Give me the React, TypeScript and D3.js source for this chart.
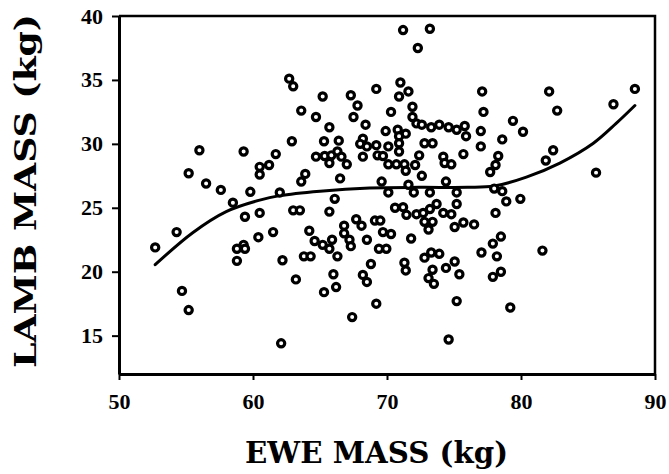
import { useEffect, useRef } from 'react';
import * as d3 from 'd3';

// Ewe mass vs lamb mass
const eweMass = [
  56.0, 59.3, 61.7, 55.2, 56.5, 57.6, 60.5, 61.2, 60.5, 59.8, 58.5, 52.7, 54.3, 59.4, 60.5, 60.4, 61.5, 58.8, 59.3, 59.4,
  58.8, 54.7, 55.2, 62.1, 62.2, 71.2, 73.2, 72.3, 62.7, 63.0, 65.2, 67.3, 67.8, 69.2, 71.0, 71.6, 70.9, 63.6, 64.7, 67.5,
  70.3, 71.9, 71.9, 65.7, 68.4, 69.9, 70.8, 71.4, 70.9, 72.2, 72.6, 73.3, 73.9, 74.6, 75.2, 75.8, 75.9, 62.9, 65.3, 66.4,
  68.2, 68.0, 68.5, 69.2, 70.1, 70.9, 70.9, 72.8, 73.4, 64.7, 65.35, 65.85, 65.7, 66.3, 66.6, 67.0, 68.2, 69.3, 69.7, 70.1,
  70.7, 71.3, 71.4, 72.1, 72.4, 72.6, 74.2, 74.3, 74.8, 75.7, 63.9, 63.6, 66.5, 69.6, 70.1, 71.6, 72.0, 73.2, 74.4, 75.2,
  62.0, 66.1, 65.7, 63.0, 63.5, 70.6, 71.2, 71.45, 72.2, 72.7, 73.2, 73.7, 74.2, 74.8, 75.2, 72.8, 73.4, 73.1, 75.05, 75.7,
  64.2, 64.6, 65.2, 65.7, 65.9, 66.8, 66.8, 67.2, 67.7, 68.1, 67.3, 68.5, 69.1, 69.5, 69.7, 70.3, 69.4, 69.95, 71.8, 63.8,
  64.3, 66.3, 63.2, 66.0, 66.2, 65.3, 68.2, 68.5, 68.8, 69.2, 67.4, 71.3, 71.4, 72.8, 73.3, 73.9, 73.4, 73.1, 73.5, 74.4,
  75.05, 75.4, 75.2, 74.6, 77.1, 82.1, 88.5, 77.2, 82.7, 86.9, 77.0, 79.4, 80.15, 78.6, 77.0, 78.3, 78.1, 77.7, 82.4, 81.85,
  85.6, 78.0, 78.6, 79.95, 78.9, 78.1, 76.5, 78.5, 77.9, 77.05, 78.2, 81.6, 78.5, 77.9, 79.2,
];
const lambMass = [
  29.5, 29.4, 29.2, 27.7, 26.9, 26.4, 28.2, 28.35, 27.6, 26.25, 25.4, 21.9, 23.1, 24.3, 24.6, 22.7, 23.1, 21.8, 22.1, 21.8,
  20.85, 18.5, 17.0, 14.4, 20.9, 38.9, 39.0, 37.5, 35.1, 34.5, 33.7, 33.8, 33.0, 34.3, 34.8, 34.1, 33.7, 32.6, 32.1, 32.1,
  32.5, 32.9, 32.1, 31.3, 31.5, 31.0, 31.1, 30.8, 30.6, 31.6, 31.5, 31.3, 31.5, 31.3, 31.1, 31.4, 30.6, 30.2, 30.2, 30.25,
  30.4, 30.0, 29.8, 29.9, 29.8, 30.05, 29.4, 30.05, 30.05, 29.0, 29.05, 29.1, 28.5, 29.4, 29.0, 28.4, 29.0, 29.1, 29.05, 28.4,
  28.4, 28.4, 27.9, 28.35, 29.1, 27.5, 29.0, 28.5, 28.4, 29.2, 27.65, 27.05, 27.3, 27.05, 26.2, 26.8, 26.2, 26.2, 27.05, 26.2,
  26.2, 25.7, 24.7, 24.8, 24.8, 25.0, 25.05, 24.45, 24.5, 24.6, 24.9, 25.3, 24.6, 24.5, 25.3, 23.9, 23.9, 23.3, 23.5, 23.85,
  23.2, 22.4, 22.1, 21.8, 22.5, 23.6, 23.0, 22.5, 24.1, 23.6, 22.0, 22.5, 24.0, 24.0, 23.1, 22.95, 21.8, 21.8, 22.6, 21.2,
  21.2, 21.2, 19.4, 19.8, 18.8, 18.4, 19.75, 19.2, 20.6, 17.5, 16.45, 20.7, 20.1, 21.1, 21.5, 21.4, 20.15, 19.5, 19.05, 20.3,
  20.8, 19.8, 17.7, 14.7, 34.1, 34.1, 34.3, 32.5, 32.6, 33.1, 31.0, 31.8, 30.95, 30.35, 29.8, 29.05, 28.35, 27.8, 29.5, 28.7,
  27.75, 26.5, 26.3, 25.7, 25.5, 24.6, 23.7, 22.75, 22.2, 21.5, 21.2, 21.65, 20.0, 19.6, 17.2,
];

// smoothed fit curve
const fitX = [52.7, 55.5, 58, 60.5, 62, 65, 68.7, 72.4, 76, 78, 80.4, 82.9, 85.4, 87.1, 88.5];
const fitY = [20.55, 23.05, 24.7, 25.6, 25.95, 26.3, 26.55, 26.6, 26.6, 26.7, 27.4, 28.5, 30.05, 31.6, 33.0];

const xTicks = [50, 60, 70, 80, 90];
const yTicks = [15, 20, 25, 30, 35, 40];

export default function App() {
  const svgRef = useRef<SVGSVGElement>(null);

  useEffect(() => {
    if (!svgRef.current) return;

    const width = 669;
    const height = 474;
    const margin = { top: 16, right: 14, bottom: 100, left: 119 };
    const innerWidth = width - margin.left - margin.right;
    const innerHeight = height - margin.top - margin.bottom;

    const svg = d3.select(svgRef.current);
    svg.selectAll('*').remove();
    svg.attr('width', width).attr('height', height);

    const g = svg.append('g').attr('transform', `translate(${margin.left},${margin.top})`);

    const x = d3.scaleLinear().domain([50, 90]).range([0, innerWidth]);
    const y = d3.scaleLinear().domain([12, 40]).range([innerHeight, 0]);

    const tickFont = '"Liberation Serif", "Times New Roman", serif';
    const titleFont = '"DejaVu Serif", "Liberation Serif", serif';

    // top / right frame
    g.append('path')
      .attr('d', `M0,0H${innerWidth}V${innerHeight}`)
      .attr('fill', 'none')
      .attr('stroke', '#000')
      .attr('stroke-width', 2.5);

    // X axis
    const xAxis = g
      .append('g')
      .attr('transform', `translate(0,${innerHeight})`)
      .call(d3.axisBottom(x).tickValues(xTicks).tickSize(6).tickSizeOuter(0).tickPadding(13));
    xAxis.select('.domain').attr('stroke-width', 3);
    xAxis.selectAll('line').attr('stroke-width', 2);
    xAxis.selectAll('text').attr('fill', '#000').style('font-family', tickFont).style('font-weight', 'bold').style('font-size', '22px');

    // Y axis
    const yAxis = g.append('g').call(d3.axisLeft(y).tickValues(yTicks).tickSize(7).tickSizeOuter(0).tickPadding(9));
    yAxis.select('.domain').attr('stroke-width', 3);
    yAxis.selectAll('line').attr('stroke-width', 2);
    yAxis.selectAll('text').attr('fill', '#000').style('font-family', tickFont).style('font-weight', 'bold').style('font-size', '22px');

    // fit curve
    const fit = fitX.map((d, i) => [d, fitY[i]] as [number, number]);
    g.append('path')
      .datum(fit)
      .attr('fill', 'none')
      .attr('stroke', '#000')
      .attr('stroke-width', 3)
      .attr('stroke-linecap', 'round')
      .attr('d', d3.line<[number, number]>().x((d) => x(d[0])).y((d) => y(d[1])).curve(d3.curveCatmullRom));

    // points
    const pts = eweMass.map((d, i) => [d, lambMass[i]] as [number, number]);
    g.selectAll('circle.pt')
      .data(pts)
      .enter()
      .append('circle')
      .attr('class', 'pt')
      .attr('cx', (d) => x(d[0]))
      .attr('cy', (d) => y(d[1]))
      .attr('r', 3.6)
      .attr('fill', '#fff')
      .attr('stroke', '#000')
      .attr('stroke-width', 3.2);

    // Axis titles
    svg.append('text')
      .attr('x', 245)
      .attr('y', 463)
      .attr('textLength', 263)
      .attr('lengthAdjust', 'spacingAndGlyphs')
      .style('font-family', titleFont)
      .style('font-weight', 'bold')
      .style('font-size', '29px')
      .attr('fill', '#000')
      .text('EWE MASS (kg)');

    svg.append('text')
      .attr('transform', 'translate(36,368) rotate(-90)')
      .attr('textLength', 354)
      .attr('lengthAdjust', 'spacingAndGlyphs')
      .style('font-family', titleFont)
      .style('font-weight', 'bold')
      .style('font-size', '29px')
      .attr('fill', '#000')
      .text('LAMB MASS (kg)');
  }, []);

  return (
    <div style={{ position: 'absolute', left: 0, top: 0 }}>
      <svg ref={svgRef} style={{ display: 'block', background: '#fff' }} />
    </div>
  );
}
